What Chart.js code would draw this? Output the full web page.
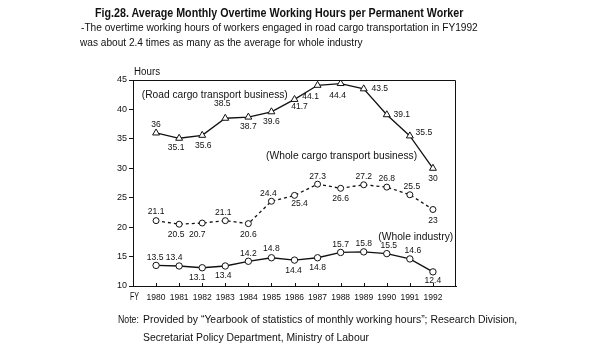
<!DOCTYPE html>
<html>
<head>
<meta charset="utf-8">
<script src="https://cdn.jsdelivr.net/npm/chart.js@4.4.1/dist/chart.umd.min.js"></script>
<style>
body { margin: 0; background: #fff; }
#wrap { position: relative; width: 598px; height: 350px; overflow: hidden; }
#wrap canvas { position: absolute; left: 0; top: 0; }
.t { position: absolute; white-space: nowrap; color: #111; font-family: 'Liberation Sans', Arial, sans-serif; transform-origin: 0 50%; line-height: 1; }
</style>
</head>
<body>
<div id="wrap">
  <canvas id="myChart"></canvas>
  <div class="t" data-w="368" style="left:95px;top:7px;font-size:12px;font-weight:bold">Fig.28. Average Monthly Overtime Working Hours per Permanent Worker</div>
  <div class="t" data-w="397" style="left:81px;top:23px;font-size:10px">-The overtime working hours of workers engaged in road cargo transportation in FY1992</div>
  <div class="t" data-w="283" style="left:80px;top:38px;font-size:10px">was about 2.4 times as many as the average for whole industry</div>
  <div class="t" data-w="21" style="left:118px;top:315px;font-size:10px">Note:</div>
  <div class="t" data-w="374" style="left:143px;top:315px;font-size:10px">Provided by “Yearbook of statistics of monthly working hours”; Research Division,</div>
  <div class="t" data-w="226" style="left:143px;top:333px;font-size:10px">Secretariat Policy Department, Ministry of Labour</div>
</div>
<script>
const years = [1980, 1981, 1982, 1983, 1984, 1985, 1986, 1987, 1988, 1989, 1990, 1991, 1992]
const roadCargo = [36, 35.1, 35.6, 38.5, 38.7, 39.6, 41.7, 44.1, 44.4, 43.5, 39.1, 35.5, 30]
const wholeCargo = [21.1, 20.5, 20.7, 21.1, 20.6, 24.4, 25.4, 27.3, 26.6, 27.2, 26.8, 25.5, 23]
const wholeIndustry = [13.5, 13.4, 13.1, 13.4, 14.2, 14.8, 14.4, 14.8, 15.7, 15.8, 15.5, 14.6, 12.4]
const seriesNames = ['(Road cargo transport business)', '(Whole cargo transport business)', '(Whole industry)']

// where each value label sits relative to its point (px)
const roadOffsets = [[0,-9],[-3,9],[1,10],[-3,-15],[0,9],[0,10],[5,7],[-7,11],[-3,12],[16,0],[15,0],[14,-4],[0,10]]
const cargoOffsets = [[0,-9],[-3,10],[-5,11],[-2,-8],[0,11],[-3,-8],[5,8],[0,-8],[0,10],[0,-8],[0,-9],[2,-8],[0,11]]
const industryOffsets = [[-1,-8],[-5,-9],[-5,10],[-2,9],[0,-8],[0,-9],[-1,10],[0,10],[0,-8],[0,-8],[2,-8],[3,-9],[0,9]]
const labelOffsets = [roadOffsets, cargoOffsets, industryOffsets]

// series captions: [x value, y value, width px]
const captions = [[1979.38, 42.4, 146], [1984.77, 32.1, 151], [1989.63, 18.3, 75]]

const tickFont = "'Liberation Sans', sans-serif"
const ink = '#111'

function toPoints(values) {
    return values.map((v, i) => ({x: years[i], y: v}))
}

function fitText(ctx, text, x, y, width, align) {
    let w = ctx.measureText(text).width
    let sx = width ? width / w : 0.9
    ctx.save()
    ctx.translate(x, y)
    ctx.scale(sx, 1)
    ctx.textAlign = align
    ctx.fillText(text, 0, 0)
    ctx.restore()
}

const extras = {
    id: 'extras',
    afterDraw(chart) {
        let ctx = chart.ctx
        let a = chart.chartArea
        let xs = chart.scales.x
        let ys = chart.scales.y
        ctx.save()
        ctx.strokeStyle = ink
        ctx.fillStyle = ink
        ctx.lineWidth = 1
        // frame top + right
        ctx.beginPath()
        ctx.moveTo(a.left, a.top + 0.5)
        ctx.lineTo(a.right - 0.5, a.top + 0.5)
        ctx.lineTo(a.right - 0.5, a.bottom)
        ctx.stroke()
        // inward x ticks
        ctx.beginPath()
        years.forEach(yr => {
            let px = Math.round(xs.getPixelForValue(yr)) + 0.5
            ctx.moveTo(px, a.bottom)
            ctx.lineTo(px, a.bottom - 3)
        })
        ctx.stroke()

        ctx.textBaseline = 'middle'
        ctx.font = "9.5px 'Liberation Sans', sans-serif"
        chart.data.datasets.forEach((ds, d) => {
            let meta = chart.getDatasetMeta(d)
            meta.data.forEach((pt, i) => {
                let off = labelOffsets[d][i]
                fitText(ctx, String(ds.data[i].y), pt.x + off[0], pt.y + off[1], 0, 'center')
            })
        })

        ctx.font = "10px 'Liberation Sans', sans-serif"
        captions.forEach((c, i) => {
            fitText(ctx, seriesNames[i], xs.getPixelForValue(c[0]), ys.getPixelForValue(c[1]), c[2], 'left')
        })
        fitText(ctx, 'Hours', a.left + 1, a.top - 8, 26, 'left')
        fitText(ctx, 'FY', a.left - 3, a.bottom + 11, 9, 'left')
        ctx.restore()
    }
}

function createLineChart() {
    let ctx = document.getElementById('myChart')
    let lineStyle = {borderColor: ink, borderWidth: 1.3, pointBorderColor: ink, pointBackgroundColor: '#fff', pointBorderWidth: 1, tension: 0, fill: false}
    return new Chart(ctx, {
        type: 'line',
        data: {
            datasets: [
                Object.assign({label: seriesNames[0], data: toPoints(roadCargo), pointStyle: 'triangle', pointRadius: 4}, lineStyle),
                Object.assign({label: seriesNames[1], data: toPoints(wholeCargo), pointStyle: 'circle', pointRadius: 3, borderDash: [3, 3]}, lineStyle),
                Object.assign({label: seriesNames[2], data: toPoints(wholeIndustry), pointStyle: 'circle', pointRadius: 3.2}, lineStyle)
            ]
        },
        options: {
            responsive: true,
            maintainAspectRatio: false,
            animation: false,
            layout: {padding: {left: 0, top: 80, right: 142, bottom: 0}},
            plugins: {legend: {display: false}, tooltip: {enabled: false}, title: {display: false}},
            scales: {
                x: {
                    type: 'linear', min: 1979, max: 1993,
                    afterFit: s => { s.height = 64 },
                    grid: {display: false, drawTicks: false, tickLength: 0},
                    border: {display: true, color: ink, width: 1},
                    ticks: {
                        stepSize: 1, padding: 7, color: ink, maxRotation: 0, autoSkip: false,
                        font: {family: tickFont, size: 8.5},
                        callback: v => (v < 1980 || v > 1992) ? '' : String(v)
                    }
                },
                y: {
                    min: 10, max: 45,
                    afterFit: s => { s.width = 133 },
                    grid: {display: true, drawOnChartArea: false, tickLength: 4, color: ink},
                    border: {display: true, color: ink, width: 1},
                    ticks: {stepSize: 5, padding: 2, color: ink, font: {family: tickFont, size: 9}}
                }
            }
        },
        plugins: [extras]
    })
}

document.querySelectorAll('.t').forEach(el => {
    let w = el.offsetWidth
    el.style.transform = 'scaleX(' + (el.dataset.w / w) + ')'
})
createLineChart()
</script>
</body>
</html>
